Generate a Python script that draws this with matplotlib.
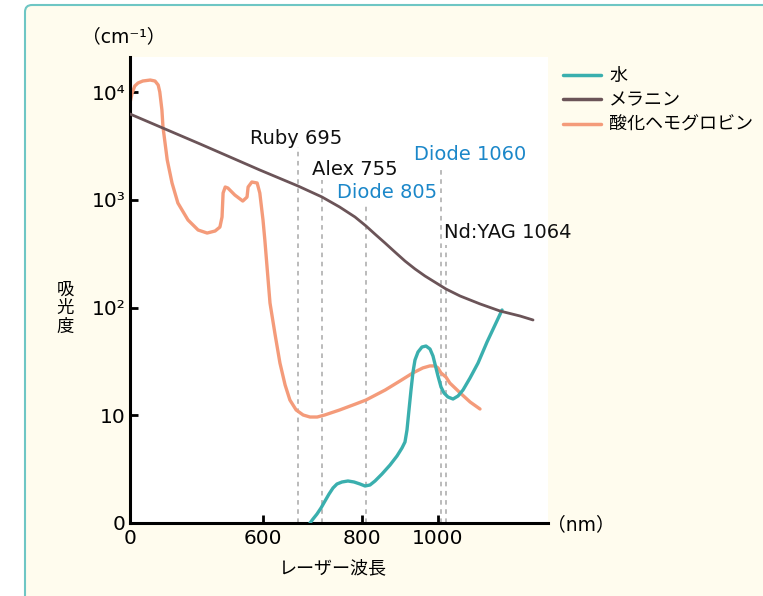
import numpy as np
import matplotlib.pyplot as plt
from matplotlib.patches import FancyBboxPatch
from matplotlib.ticker import NullLocator

plt.rcParams['font.family'] = ['DejaVu Sans', 'Noto Sans CJK JP']

W, H = 763, 596

# absorption curves (nm, 1/cm)
water_nm = [725, 732.5, 742.5, 752.5, 758.4, 763, 767.5, 772, 777.7, 784.5, 791.4, 798.2, 803.9,
            815.8, 829.4, 848.3, 870, 889, 902.5, 910.6, 916, 921.4, 926.9, 932.3, 937.7, 945.8,
            956.6, 967.5, 978.3, 986.4, 991.8, 1000, 1060, 1062.4, 1067.6, 1076.8, 1085.9, 1095,
            1107.8, 1122.4, 1138.8, 1153.4, 1166.2]
water_abs = [1.0, 1.089, 1.212, 1.378, 1.60, 1.858, 2.113, 2.301, 2.402, 2.454, 2.402, 2.301, 2.205,
             2.253, 2.454, 2.85, 3.45, 4.19, 4.97, 5.65, 7.30, 11.19, 17.15, 25.2, 32.6, 38.6,
             43.0, 43.9, 41.2, 35.5, 29.9, 23.1, 18.3, 16.09, 14.77, 14.15, 15.09, 17.15,
             22.17, 30.5, 47.8, 68.8, 94.8]

melanin_nm = [350, 482, 594, 695, 755, 775, 792.5, 805, 829, 856.5, 883.5, 910.6, 937.7, 964.8,
              1000, 1064, 1089.5, 1126, 1162.5, 1199, 1222.7]
melanin_abs = [6250, 3291, 1889, 1342, 1061, 857, 692, 571, 481, 397, 327, 270, 228, 196,
               165, 148.5, 128, 108, 92.8, 83.4, 76.6]

hbo2_nm = [350, 354, 359, 365, 374, 388, 397, 403, 406, 410, 412, 420, 429, 440, 459, 478, 495,
           510, 519, 523, 525, 529, 534, 547, 562, 570, 572, 579, 589, 594, 600, 605, 619, 633,
           646, 660, 673, 690, 708, 725, 743, 758, 775, 793, 805, 857, 897, 932, 959, 978, 992,
           1000, 1060, 1064, 1071, 1090, 1108, 1126]
hbo2_abs = [7907, 9795, 11370, 12120, 12650, 12920, 12650, 11610, 10000, 6810, 4732, 2339, 1431,
            933, 649, 524, 491, 513, 558, 692, 1155, 1313, 1285, 1107, 973, 1060, 1313, 1461,
            1431, 1155, 649, 423, 110, 55.6, 30.5, 19.1, 13.85, 11.19, 10.05, 9.63, 9.63, 10.05,
            11.19, 12.7, 13.85, 17.15, 20.8, 24.7, 27.5, 28.7, 28.7, 27.5, 24.7, 22.6, 19.9,
            16.09, 13.27, 11.43]

series_names = ['水', 'メラニン', '酸化ヘモグロビン']

laser_names = ['Ruby 695', 'Alex 755', 'Diode 805', 'Diode 1060', 'Nd:YAG 1064']
laser_nm = [695, 755, 805, 1060, 1064]

x_ticks = [350, 600, 800, 1000]
x_ticklabels = ['0', '600', '800', '1000']
y_ticks = [1, 10, 100, 1000, 10000]
y_ticklabels = ['0', '10', '10²', '10³', '10⁴']

# the wavelength axis of the original is schematic, not linear
knot_nm = [350, 600, 695, 755, 805, 1000, 1060, 1064, 1250]
knot_pos = [0, 133, 168, 192, 236, 308, 311, 316, 418]


def fwd(x):
    return np.interp(x, knot_nm, knot_pos)


def inv(p):
    return np.interp(p, knot_pos, knot_nm)


def fx(px):
    return px / W


def fy(py):
    return 1 - py / H


fig = plt.figure(figsize=(W / 100, H / 100), dpi=100)
fig.patch.set_facecolor('white')
frame = FancyBboxPatch((25, -80), 800, 671, boxstyle='round,pad=0,rounding_size=7',
                       transform=None, facecolor='#fffcee', edgecolor='#6ec6c4', lw=1.5, zorder=-1)
fig.add_artist(frame)

ax = fig.add_axes([fx(130), fy(523), (548 - 130) / W, (523 - 57) / H])
ax.set_facecolor('white')
ax.set_xscale('function', functions=(fwd, inv))
ax.set_yscale('log')
ax.set_xlim(350, 1250)
ax.set_ylim(1, 10 ** 4.325)

ax.spines[['top', 'right']].set_visible(False)
ax.spines[['left', 'bottom']].set_linewidth(2.2)

ax.set_xticks(x_ticks, x_ticklabels)
ax.set_yticks(y_ticks, y_ticklabels)
ax.xaxis.set_minor_locator(NullLocator())
ax.yaxis.set_minor_locator(NullLocator())
ax.tick_params(direction='in', length=6, width=2, labelsize=14.5, pad=4)
ax.tick_params(axis='y', pad=3)
ax.xaxis.get_major_ticks()[0].tick1line.set_visible(False)
ax.yaxis.get_major_ticks()[0].tick1line.set_visible(False)

# laser lines
tops = [3090, 1525, 894, 2014, 380]
for nm, top in zip(laser_nm, tops):
    ax.vlines(nm, 1, top, colors='#a8a8a8', linestyles=(0, (3, 3)), lw=1.1, zorder=1)

ax.plot(water_nm, water_abs, color='#3aafae', lw=2.4, label=series_names[0], zorder=3,
        solid_joinstyle='round', solid_capstyle='round')
ax.plot(melanin_nm, melanin_abs, color='#6b5458', lw=2.0, label=series_names[1], zorder=3,
        solid_joinstyle='round', solid_capstyle='round')
ax.plot(hbo2_nm, hbo2_abs, color='#f49b7a', lw=2.4, label=series_names[2], zorder=2,
        solid_joinstyle='round', solid_capstyle='round')

label_xy = [(250, 139), (312, 169), (337, 192), (414, 155), (444, 232)]
label_col = ['#111111', '#111111', '#1b87c9', '#1b87c9', '#111111']
for name, (px, py), c in zip(laser_names, label_xy, label_col):
    fig.text(fx(px), fy(py), name, color=c, fontsize=14, ha='left', va='center')

leg = ax.legend(loc='upper left', bbox_to_anchor=(fx(556), fy(60)), bbox_transform=fig.transFigure,
                frameon=False, fontsize=13, handlelength=2.1, handletextpad=0.45,
                labelspacing=0.35, borderaxespad=0)
for line in leg.get_lines():
    line.set_linewidth(2.5)

fig.text(fx(124), fy(37), '（cm⁻¹）', fontsize=13.5, ha='center', va='center')
fig.text(fx(581), fy(525), '（nm）', fontsize=13.5, ha='center', va='center')
fig.text(fx(65), fy(308), '吸\n光\n度', fontsize=12.5, ha='center', va='center', linespacing=1.05)
fig.text(fx(333), fy(568), 'レーザー波長', fontsize=13, ha='center', va='center')

fig.savefig('out.png', dpi=100)
